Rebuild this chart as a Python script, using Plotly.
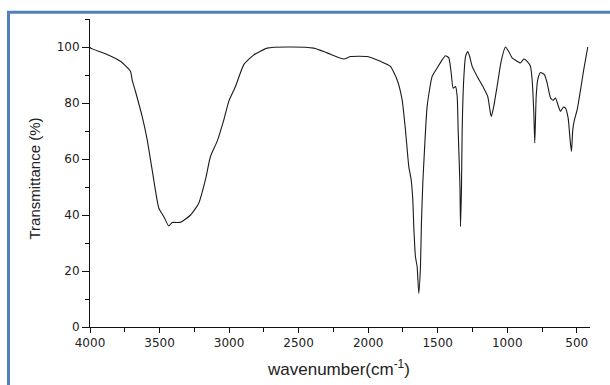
import plotly.graph_objects as go

wavenumber = [4000, 3996, 3889, 3781, 3709, 3697, 3673, 3625, 3589, 3553, 3505, 3469, 3434, 3409, 3349,
              3277, 3218, 3170, 3134, 3086, 3038, 3002, 2954, 2894, 2822, 2726, 2582, 2391, 2295,
              2175, 2127, 2007, 1912, 1840, 1792, 1756, 1732, 1715, 1708, 1691, 1679, 1672, 1660,
              1648, 1636, 1624, 1617, 1607, 1600, 1576, 1540, 1504, 1467, 1444, 1420, 1403, 1389,
              1372, 1360, 1353, 1345, 1340, 1336, 1329, 1324, 1313, 1300, 1284, 1270, 1252, 1216,
              1169, 1140, 1121, 1114, 1097, 1073, 1044, 1013, 989, 965, 929, 905, 881, 857, 833,
              821, 809, 802, 792, 781, 761, 733, 713, 689, 670, 653, 636, 617, 597, 581, 562, 546,
              538, 529, 517, 497, 473, 450, 421]
transmittance = [100, 99.6, 97.6, 94.9, 91.3, 88.3, 84.1, 75.2, 66.9, 56.1, 42.4, 39.4, 36.1, 37.3, 37.4,
                 40.0, 44.2, 52.6, 60.9, 66.3, 74.0, 80.6, 85.9, 93.7, 97.2, 99.6, 100, 99.6, 97.9,
                 95.7, 96.6, 96.6, 94.9, 93.1, 88.3, 81.2, 70.4, 60.9, 57.3, 52.6, 45.4, 35.9, 25.1,
                 21.6, 12.0, 21.6, 37.1, 51.4, 58.5, 78.8, 89.5, 92.5, 95.5, 96.9, 96.1, 90.7, 85.3,
                 85.9, 82.3, 70.4, 58.5, 50.2, 35.9, 50.2, 70.4, 88.3, 96.6, 98.4, 96.6, 93.1, 89.5,
                 85.3, 82.3, 76.4, 75.2, 78.8, 85.9, 94.9, 100, 98.4, 96.1, 94.9, 94.3, 95.7, 94.9,
                 93.1, 88.3, 76.4, 65.7, 82.3, 88.3, 90.9, 90.1, 87.1, 81.8, 80.9, 81.8, 79.4, 77.0,
                 78.5, 78.2, 74.6, 65.7, 62.7, 70.4, 74.0, 77.6, 84.7, 91.9, 100]

x_ticks = [4000, 3500, 3000, 2500, 2000, 1500, 1000, 500]
y_ticks = [0, 20, 40, 60, 80, 100]

fig = go.Figure()
fig.add_trace(go.Scatter(x=wavenumber, y=transmittance, mode="lines",
                         line=dict(color="#1a1a1a", width=1.1, shape="spline", smoothing=0.5),
                         hoverinfo="skip", showlegend=False))

font = "Liberation Sans, Arial, sans-serif"
tfont = "DejaVu Sans, sans-serif"
L, R, T, B = 90, 20, 19, 58
W, H = 610, 385
pw, ph = W - L - R, H - T - B

def px(x):
    return (x - L) / pw

def py(y):
    return (H - B - y) / ph

fig.update_layout(
    width=W, height=H,
    margin=dict(l=L, r=R, t=T, b=B, pad=0),
    paper_bgcolor="white", plot_bgcolor="white",
    font=dict(family=font, color="#222", size=11),
    xaxis=dict(range=[4000, 405], tickvals=x_ticks, ticktext=[str(v) for v in x_ticks],
               showgrid=False, zeroline=False, showline=True, linecolor="#111", linewidth=1,
               ticks="outside", ticklen=5, tickwidth=1, tickcolor="#111",
               minor=dict(dtick=250, tick0=0, ticks="outside", ticklen=4, tickwidth=1,
                          tickcolor="#111", showgrid=False),
               tickfont=dict(size=12, family=tfont, color="#222")),
    yaxis=dict(range=[0, 110], tickvals=y_ticks, showgrid=False, zeroline=False,
               showline=True, linecolor="#111", linewidth=1,
               ticks="outside", ticklen=7, tickwidth=1, tickcolor="#111",
               minor=dict(dtick=10, tick0=0, ticks="outside", ticklen=4, tickwidth=1,
                          tickcolor="#111", showgrid=False),
               tickfont=dict(size=12, family=tfont, color="#222")),
    annotations=[
        dict(text="wavenumber(cm<sup>-1</sup>)", x=px(338), y=py(368), xref="paper", yref="paper",
             showarrow=False, font=dict(size=17, family=font, color="#222"),
             xanchor="center", yanchor="middle"),
        dict(text="Transmittance (%)", x=px(34.5), y=py(179), xref="paper", yref="paper",
             showarrow=False, textangle=-90, font=dict(size=15, family=font, color="#222"),
             xanchor="center", yanchor="middle"),
    ],
    shapes=[
        dict(type="path", xref="paper", yref="paper",
             path=f"M {px(8.5)} {py(395)} L {px(8.5)} {py(12.3)} L {px(620)} {py(12.3)}",
             line=dict(color="#4F81BD", width=3)),
    ],
)

fig.write_html("out.html")
